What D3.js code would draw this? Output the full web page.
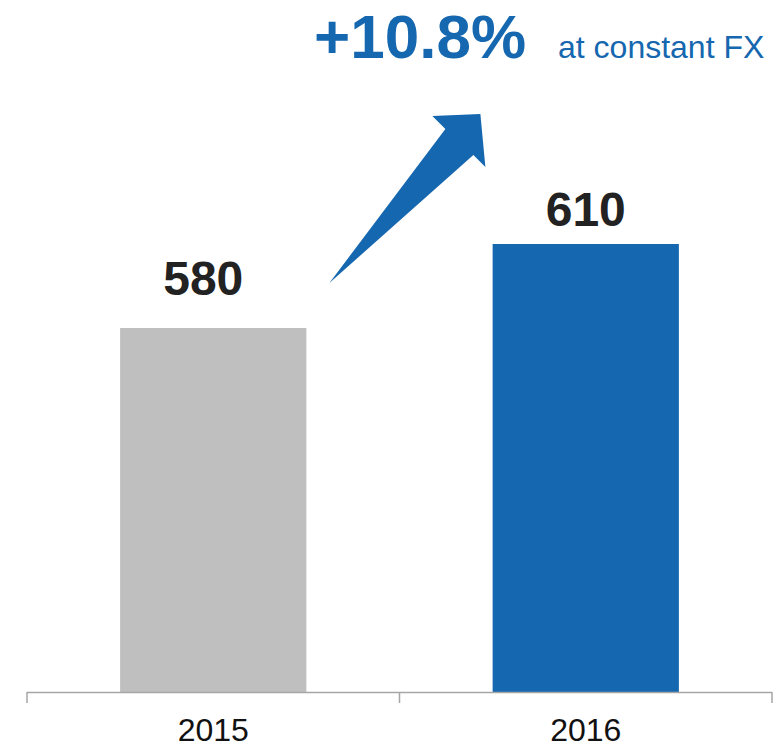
<!DOCTYPE html>
<html>
<head>
<meta charset="utf-8">
<script src="https://cdn.jsdelivr.net/npm/d3@7"></script>
<style>
  body { margin: 0; background: #fff; }
  svg { display: block; font-family: "Liberation Sans", Arial, sans-serif; }
</style>
</head>
<body>
<script>
const years = ["2015", "2016"];
const values = [580, 610];
const barColors = ["#bfbfbf", "#1567af"];
const growthLabel = "+10.8%";
const growthNote = "at constant FX";

const w = 777;
const h = 747;
const baseY = 692;
const blue = "#1567af";

const svg = d3.select("body").append("svg").attr("width", w).attr("height", h);

const xScale = d3.scaleBand()
  .domain(years)
  .range([27, 772])
  .paddingInner(0.5)
  .paddingOuter(0.25);

const yScale = d3.scaleLinear()
  .domain([450, 650])
  .range([baseY, baseY - 200 * 2.8]);

// bars
svg.selectAll("rect.bar")
  .data(years)
  .enter()
  .append("rect")
  .attr("class", "bar")
  .attr("x", d => xScale(d))
  .attr("y", (d, i) => yScale(values[i]))
  .attr("width", xScale.bandwidth())
  .attr("height", (d, i) => baseY - yScale(values[i]))
  .attr("fill", (d, i) => barColors[i]);

// value labels
const labelShift = [[-10, -33], [0, -18]];
svg.selectAll("text.value")
  .data(years)
  .enter()
  .append("text")
  .attr("class", "value")
  .attr("x", (d, i) => xScale(d) + xScale.bandwidth() / 2 + labelShift[i][0])
  .attr("y", (d, i) => yScale(values[i]) + labelShift[i][1])
  .attr("text-anchor", "middle")
  .attr("font-size", 48)
  .attr("font-weight", "bold")
  .attr("fill", "#222")
  .text((d, i) => values[i]);

// x axis: labels centred, ticks at category boundaries
const xAxis = d3.axisBottom(xScale).tickSize(0).tickPadding(26);
const gx = svg.append("g")
  .attr("transform", `translate(0, ${baseY})`)
  .call(xAxis);
gx.select(".domain").remove();
gx.selectAll("text")
  .attr("font-size", 32)
  .attr("font-family", "Liberation Sans, Arial, sans-serif")
  .attr("fill", "#111");

const [x0, x1] = xScale.range();
const bounds = d3.range(years.length + 1).map(i => x0 + i * xScale.step());
svg.append("line")
  .attr("x1", x0).attr("x2", x1)
  .attr("y1", baseY + 0.5).attr("y2", baseY + 0.5)
  .attr("stroke", "#a6a6a6").attr("stroke-width", 1.5);
svg.selectAll("line.tick-b")
  .data(bounds)
  .enter()
  .append("line")
  .attr("class", "tick-b")
  .attr("x1", d => d).attr("x2", d => d)
  .attr("y1", baseY).attr("y2", baseY + 11)
  .attr("stroke", "#a6a6a6").attr("stroke-width", 1.5);

// growth arrow, anchored from the 2015 bar
const ax = xScale(years[0]) + xScale.bandwidth() + 23;
const ay = yScale(values[0]) - 45;
const arrowPts = [[0, 0], [116, -154], [103, -167], [151, -169], [156, -116], [144, -128]];
svg.append("polygon")
  .attr("points", arrowPts.map(p => [ax + p[0], ay + p[1]].join(",")).join(" "))
  .attr("fill", blue);

// headline
svg.append("text")
  .attr("x", 314)
  .attr("y", 58)
  .attr("font-size", 62)
  .attr("font-weight", "bold")
  .attr("fill", blue)
  .text(growthLabel);
svg.append("text")
  .attr("x", 558)
  .attr("y", 58)
  .attr("font-size", 32)
  .attr("fill", blue)
  .text(growthNote);
</script>
</body>
</html>
